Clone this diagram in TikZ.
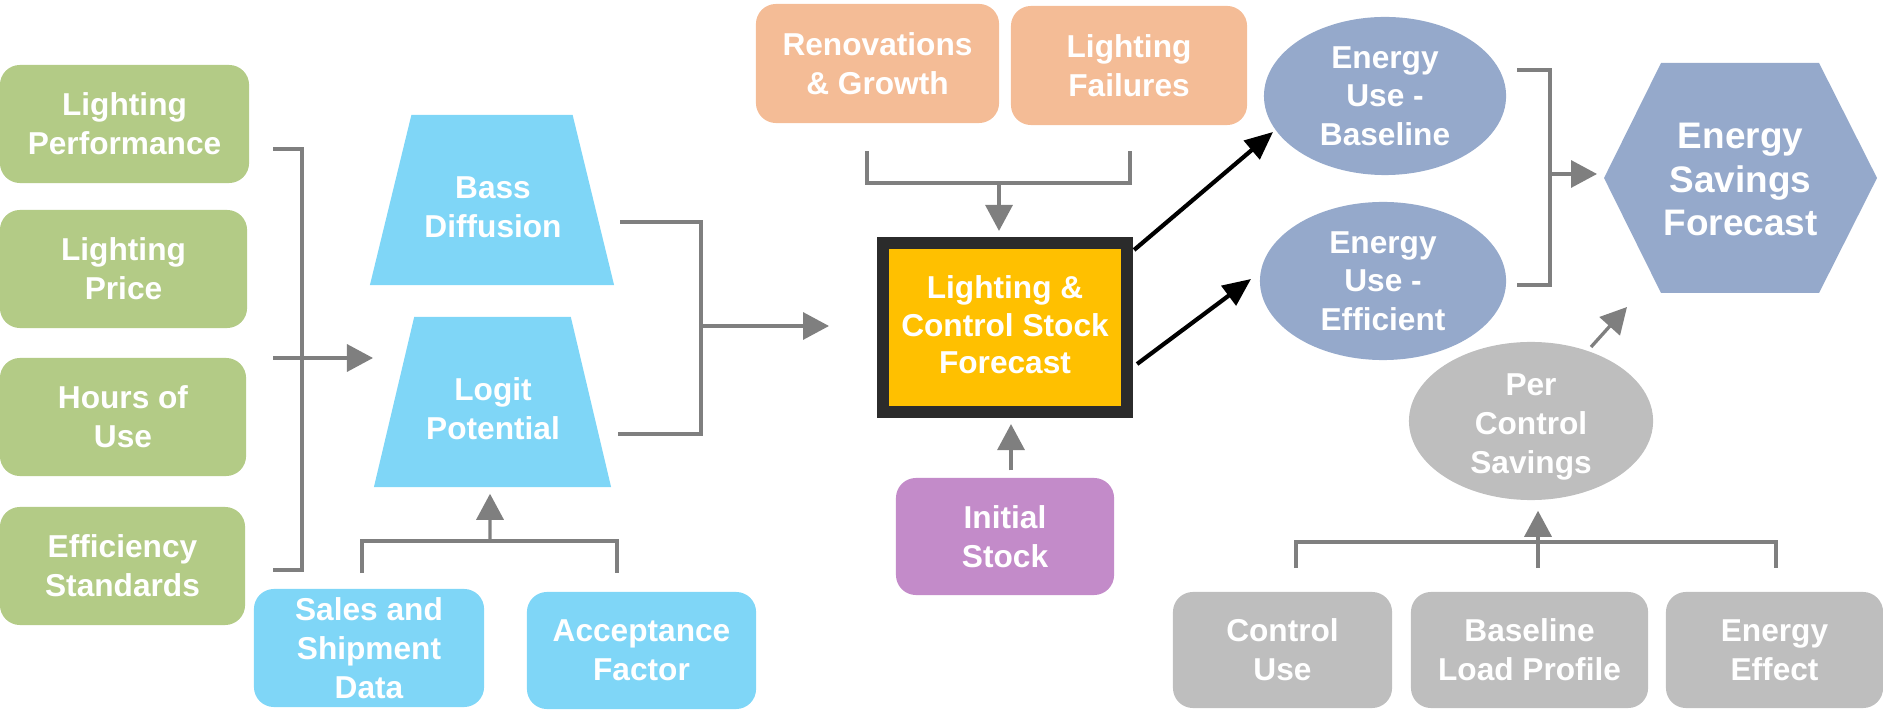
\documentclass[tikz,border=0pt]{standalone}
\usepackage{fontspec}
\setmainfont{Liberation Sans}
\usetikzlibrary{shapes.geometric,arrows.meta,calc}
\definecolor{cgreen}{HTML}{B3CB86}
\definecolor{cblue}{HTML}{7FD6F7}
\definecolor{corange}{HTML}{F4BC96}
\definecolor{cyellow}{HTML}{FFC000}
\definecolor{cdark}{HTML}{2B2B2B}
\definecolor{cpurple}{HTML}{C38BC9}
\definecolor{csteel}{HTML}{95A9CB}
\definecolor{cgray}{HTML}{BEBEBE}
\definecolor{cline}{HTML}{7F7F7F}
\tikzset{
  lbl/.style={text=white, font=\bfseries\fontsize{9}{11}\selectfont, align=center, inner sep=0pt},
  rbox/.style={lbl, rectangle, rounded corners=0.2cm},
  trap/.style={lbl, shape=trapezium, trapezium left angle=76, trapezium right angle=76,
     trapezium stretches=true, fill=cblue},
  ell/.style={lbl, shape=ellipse},
  conn/.style={draw=cline, line width=0.033cm},
  garrow/.style={conn, -{Triangle[length=0.26cm,width=0.27cm]}},
  barrow/.style={draw=black, line width=0.042cm, -{Triangle[length=0.28cm,width=0.24cm]}},
}
\begin{document}
\begin{tikzpicture}[x=0.01cm, y=-0.01cm]
\useasboundingbox (0,0) rectangle (1883,710);

% green inputs
\node[rbox, fill=cgreen, minimum width=2.49cm, minimum height=1.18cm] (lp) at (124.5,124) {Lighting\\Performance};
\node[rbox, fill=cgreen, minimum width=2.47cm, minimum height=1.18cm] (lpr) at (123.5,269) {Lighting\\Price};
\node[rbox, fill=cgreen, minimum width=2.46cm, minimum height=1.18cm] (hou) at (123,417) {Hours of\\Use};
\node[rbox, fill=cgreen, minimum width=2.45cm, minimum height=1.18cm] (es) at (122.5,566) {Efficiency\\Standards};

% trapezoids
\node[trap, minimum width=2.44cm, minimum height=1.70cm] (bass) at (492,200) {\phantom{X}};
\node[lbl] (basstext) at (493,207) {Bass\\Diffusion};
\node[trap, minimum width=2.37cm, minimum height=1.70cm] (logit) at (492.5,402) {\phantom{X}};
\node[lbl] (logittext) at (493,409) {Logit\\Potential};

% blue inputs
\node[rbox, fill=cblue, minimum width=2.30cm, minimum height=1.18cm] (ssd) at (369,648) {Sales and\\Shipment\\Data};
\node[rbox, fill=cblue, minimum width=2.29cm, minimum height=1.17cm] (af) at (641.5,650.5) {Acceptance\\Factor};

% orange inputs
\node[rbox, fill=corange, minimum width=2.43cm, minimum height=1.19cm] (ren) at (877.5,63.5) {Renovations\\\& Growth};
\node[rbox, fill=corange, minimum width=2.36cm, minimum height=1.19cm] (lf) at (1129,65.5) {Lighting\\Failures};

% central stock forecast
\node[lbl, rectangle, draw=cdark, fill=cyellow, line width=0.12cm, minimum width=2.44cm, minimum height=1.69cm] (cs) at (1005,327.5) {\phantom{X}};
\node[lbl, font=\bfseries\fontsize{9}{10.7}\selectfont] (cstext) at (1005,325) {Lighting \&\\Control Stock\\Forecast};

% initial stock
\node[rbox, fill=cpurple, minimum width=2.18cm, minimum height=1.17cm] (is) at (1005,536.5) {Initial\\Stock};

% energy use ellipses
\node[ell, fill=csteel, minimum width=2.42cm, minimum height=1.58cm] (eub) at (1385,96) {Energy\\Use -\\Baseline};
\node[ell, fill=csteel, minimum width=2.46cm, minimum height=1.58cm] (eue) at (1383,281) {Energy\\Use -\\Efficient};

% hexagon
\fill[csteel] (1604,178) -- (1661,63) -- (1819,63) -- (1877,178) -- (1819,293) -- (1661,293) -- cycle;
\node[lbl, font=\bfseries\fontsize{10.5}{12.4}\selectfont] (esf) at (1740.5,179.5) {Energy\\Savings\\Forecast};

% per control savings
\node[ell, fill=cgray, minimum width=2.44cm, minimum height=1.58cm] (pcs) at (1531,421) {\phantom{X}};
\node[lbl] (pcstext) at (1531,427) {Per\\Control\\Savings};

% gray inputs
\node[rbox, fill=cgray, minimum width=2.19cm, minimum height=1.16cm] (cu) at (1282.5,650) {Control\\Use};
\node[rbox, fill=cgray, minimum width=2.37cm, minimum height=1.16cm] (blp) at (1529.5,650) {Baseline\\Load Profile};
\node[rbox, fill=cgray, minimum width=2.17cm, minimum height=1.16cm] (ee) at (1774.5,650) {Energy\\Effect};

% ---- connector end points ----
\coordinate (l1) at (273,149);
\coordinate (l4) at (273,570);
\coordinate (l3) at (273,358);
\coordinate (l3t) at (373,358);
\coordinate (r1) at (620,222);
\coordinate (r2) at (618,434);
\coordinate (rt) at (829,326);
\coordinate (s1) at (362,573);
\coordinate (s2) at (617,573);
\coordinate (o1) at (867,151);
\coordinate (o2) at (1130,151);
\coordinate (e1) at (1517,70);
\coordinate (e2) at (1517,285);
\coordinate (et) at (1597,174);
\coordinate (g1) at (1296,568);
\coordinate (g2) at (1538,568);
\coordinate (g3) at (1776,568);

% left bracket: green -> logit/bass
\draw[conn] (l1) -| (302,570) -- (l4);
\draw[garrow] (l3) -- (l3t);

% bass/logit -> stock forecast
\draw[conn] (r1) -| (701,434) -- (r2);
\draw[garrow] (701,326) -- (rt);

% sales/acceptance -> logit
\draw[conn] (s1) |- (617,541) -- (s2);
\draw[garrow] (490,541) -- ($(logit.south)+(-2.5,6)$);

% renovations/failures -> stock forecast
\draw[conn] (o1) |- (1130,183) -- (o2);
\draw[garrow] (999,183) -- ($(cs.north)+(-6,-6)$);

% initial stock -> stock forecast
\draw[garrow] ($(is.north)+(6,-7)$) -- ($(cs.south)+(6,6)$);

% stock forecast -> energy use
\draw[barrow] ($(cs.north east)+(1,13)$) -- ($(eub.center)+(-112,36)$);
\draw[barrow] ($(cs.east)+(4,36.5)$) -- ($(eue.center)+(-132,-2)$);

% energy use -> savings forecast
\draw[conn] (e1) -| (1550,285) -- (e2);
\draw[garrow] (1550,174) -- (et);

% per control -> savings forecast
\draw[garrow] ($(pcs.center)+(60,-74)$) -- ($(pcs.center)+(96,-114)$);

% gray inputs -> per control
\draw[conn] (g1) |- (1776,542) -- (g3);
\draw[garrow] (g2) -- ($(pcs.south)+(7,10)$);
\end{tikzpicture}
\end{document}
